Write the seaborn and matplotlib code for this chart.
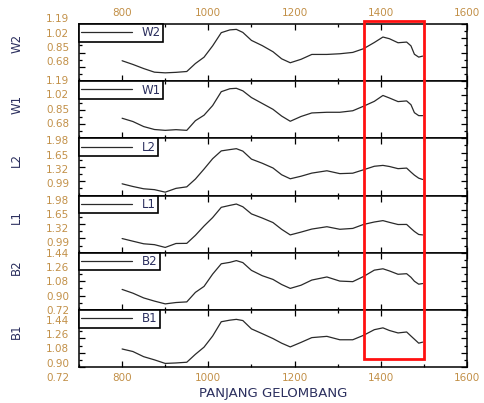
import matplotlib
matplotlib.use("Agg")
import numpy as np
import pandas as pd
import seaborn as sns
import matplotlib.pyplot as plt
from matplotlib.ticker import FixedLocator
from matplotlib.transforms import ScaledTranslation, blended_transform_factory
from matplotlib.patches import Rectangle

# ---------------- data ----------------
wavelength = [800, 825, 850, 875, 900, 925, 950, 970, 990, 1010, 1030, 1050, 1065,
              1080, 1100, 1125, 1150, 1170, 1190, 1215, 1240, 1275, 1305, 1335,
              1360, 1385, 1405, 1420, 1440, 1460, 1470, 1478, 1488, 1497]

w2 = [0.753, 0.709, 0.660, 0.617, 0.609, 0.615, 0.625, 0.720, 0.795, 0.930, 1.087,
      1.120, 1.126, 1.090, 0.995, 0.933, 0.860, 0.776, 0.729, 0.770, 0.828, 0.828,
      0.836, 0.852, 0.896, 0.970, 1.035, 1.015, 0.967, 0.975, 0.930, 0.830, 0.796, 0.808]
w1 = [0.749, 0.710, 0.650, 0.615, 0.605, 0.613, 0.605, 0.720, 0.785, 0.900, 1.065,
      1.100, 1.105, 1.075, 0.995, 0.925, 0.855, 0.775, 0.713, 0.770, 0.812, 0.820,
      0.820, 0.838, 0.892, 0.950, 1.020, 0.990, 0.947, 0.955, 0.910, 0.815, 0.780, 0.780]
l2 = [0.930, 0.868, 0.815, 0.795, 0.737, 0.825, 0.860, 1.040, 1.270, 1.510, 1.690,
      1.720, 1.741, 1.685, 1.500, 1.405, 1.295, 1.139, 1.046, 1.105, 1.177, 1.231,
      1.165, 1.175, 1.254, 1.335, 1.355, 1.330, 1.280, 1.293, 1.200, 1.130, 1.060, 1.030]
l1 = [0.986, 0.925, 0.865, 0.845, 0.781, 0.872, 0.875, 1.060, 1.275, 1.470, 1.707,
      1.752, 1.783, 1.720, 1.555, 1.460, 1.355, 1.199, 1.070, 1.135, 1.205, 1.259,
      1.200, 1.220, 1.312, 1.368, 1.400, 1.360, 1.310, 1.312, 1.220, 1.150, 1.080, 1.070]
b2 = [0.977, 0.930, 0.870, 0.830, 0.795, 0.812, 0.820, 0.940, 1.015, 1.170, 1.300,
      1.318, 1.340, 1.315, 1.217, 1.150, 1.103, 1.039, 0.990, 1.030, 1.095, 1.134,
      1.082, 1.075, 1.140, 1.220, 1.237, 1.210, 1.168, 1.175, 1.130, 1.080, 1.043, 1.051]
b1 = [0.947, 0.915, 0.850, 0.810, 0.765, 0.771, 0.780, 0.880, 0.970, 1.110, 1.290,
      1.310, 1.320, 1.305, 1.200, 1.140, 1.078, 1.020, 0.973, 1.030, 1.090, 1.106,
      1.063, 1.063, 1.119, 1.190, 1.213, 1.180, 1.149, 1.161, 1.110, 1.070, 1.020, 1.033]

series_names = ["W2", "W1", "L2", "L1", "B2", "B1"]
series_values = [w2, w1, l2, l1, b2, b1]
y_min = [0.51, 0.51, 0.66, 0.66, 0.72, 0.72]
y_step = [0.17, 0.17, 0.33, 0.33, 0.18, 0.18]
x_major = [800, 1000, 1200, 1400, 1600]
x_minor = [700, 900, 1100, 1300, 1500]
x_label = "PANJANG GELOMBANG"
highlight = (1360, 1500)

# ---------------- styling ----------------
sns.set_theme(style="ticks")
plt.rcParams["font.family"] = ["DejaVu Sans"]

tick_color = "#c29048"
text_color = "#2b2f5e"
line_color = "#2a2a2a"

# label vertical shifts in pixels (positive = down), mimicking the reference layout
label_shift = [-5.5, -1, 2, 4, 0, 10]
ylabel_pos = [0.66, 0.60, 0.62, 0.62, 0.74, 0.62]

fig = plt.figure(figsize=(4.84, 4.03), dpi=100)
gs = fig.add_gridspec(6, 1, left=79 / 484, right=467 / 484,
                      top=1 - 24 / 403, bottom=1 - 367 / 403, hspace=0)
axes = [fig.add_subplot(gs[i, 0]) for i in range(6)]

df = pd.DataFrame({"wavelength": wavelength})
for name, vals in zip(series_names, series_values):
    df[name] = vals

for i, (ax, name) in enumerate(zip(axes, series_names)):
    sns.lineplot(data=df, x="wavelength", y=name, ax=ax, color=line_color,
                 linewidth=0.9, label=name)
    lo, st = y_min[i], y_step[i]
    ax.set_xlim(700, 1600)
    ax.set_ylim(lo, lo + 4 * st)
    yt = [lo + k * st for k in range(5)]
    if i >= 4:
        labels = [f"{v:.2f}" for v in yt]
    else:
        labels = [""] + [f"{v:.2f}" for v in yt[1:]]
    ax.set_yticks(yt, labels)
    ax.yaxis.set_minor_locator(FixedLocator([lo + (k + 0.5) * st for k in range(4)]))
    ax.xaxis.set_major_locator(FixedLocator(x_major))
    ax.xaxis.set_minor_locator(FixedLocator(x_minor))

    ax.tick_params(axis="both", which="both", direction="in",
                   left=True, right=True, top=True, bottom=True,
                   color="black", width=0.9)
    ax.tick_params(axis="both", which="major", length=4)
    ax.tick_params(axis="both", which="minor", length=2.5)
    ax.tick_params(axis="y", which="major", labelsize=7.5, labelcolor=tick_color, pad=7)
    ax.tick_params(axis="x", which="major", labelsize=7.5, labelcolor=tick_color, pad=4)
    ax.tick_params(axis="x", labelbottom=(i == 5), labeltop=(i == 0))

    for sp in ax.spines.values():
        sp.set_color("black")
        sp.set_linewidth(1.1)

    off = ScaledTranslation(0, -label_shift[i] / 100, fig.dpi_scale_trans)
    for lab in ax.get_yticklabels():
        lab.set_transform(lab.get_transform() + off)

    ax.set_ylabel(name, fontsize=8.5, color=text_color)
    ax.yaxis.set_label_coords(-0.144, ylabel_pos[i])
    ax.set_xlabel("")

    leg = ax.legend(loc="upper left", borderaxespad=0, frameon=True, fancybox=False,
                    handlelength=4.3, handletextpad=0.8, borderpad=0.2,
                    fontsize=8.5, labelcolor=text_color)
    leg.get_frame().set_edgecolor("black")
    leg.get_frame().set_linewidth(1.2)
    leg.get_frame().set_alpha(1)
    for h in leg.get_lines():
        h.set_linewidth(0.9)

axes[5].set_xlabel(x_label, fontsize=9.5, color=text_color, labelpad=3)

# red highlight box spanning all panels (x in data units)
trans = blended_transform_factory(axes[0].transData, fig.transFigure)
rect = Rectangle((highlight[0], 1 - 359 / 403), highlight[1] - highlight[0],
                 (359 - 21) / 403, transform=trans, fill=False,
                 edgecolor="#ff1010", linewidth=2.0, clip_on=False, zorder=10)
fig.add_artist(rect)

fig.savefig("out.png", dpi=100, facecolor="white")
